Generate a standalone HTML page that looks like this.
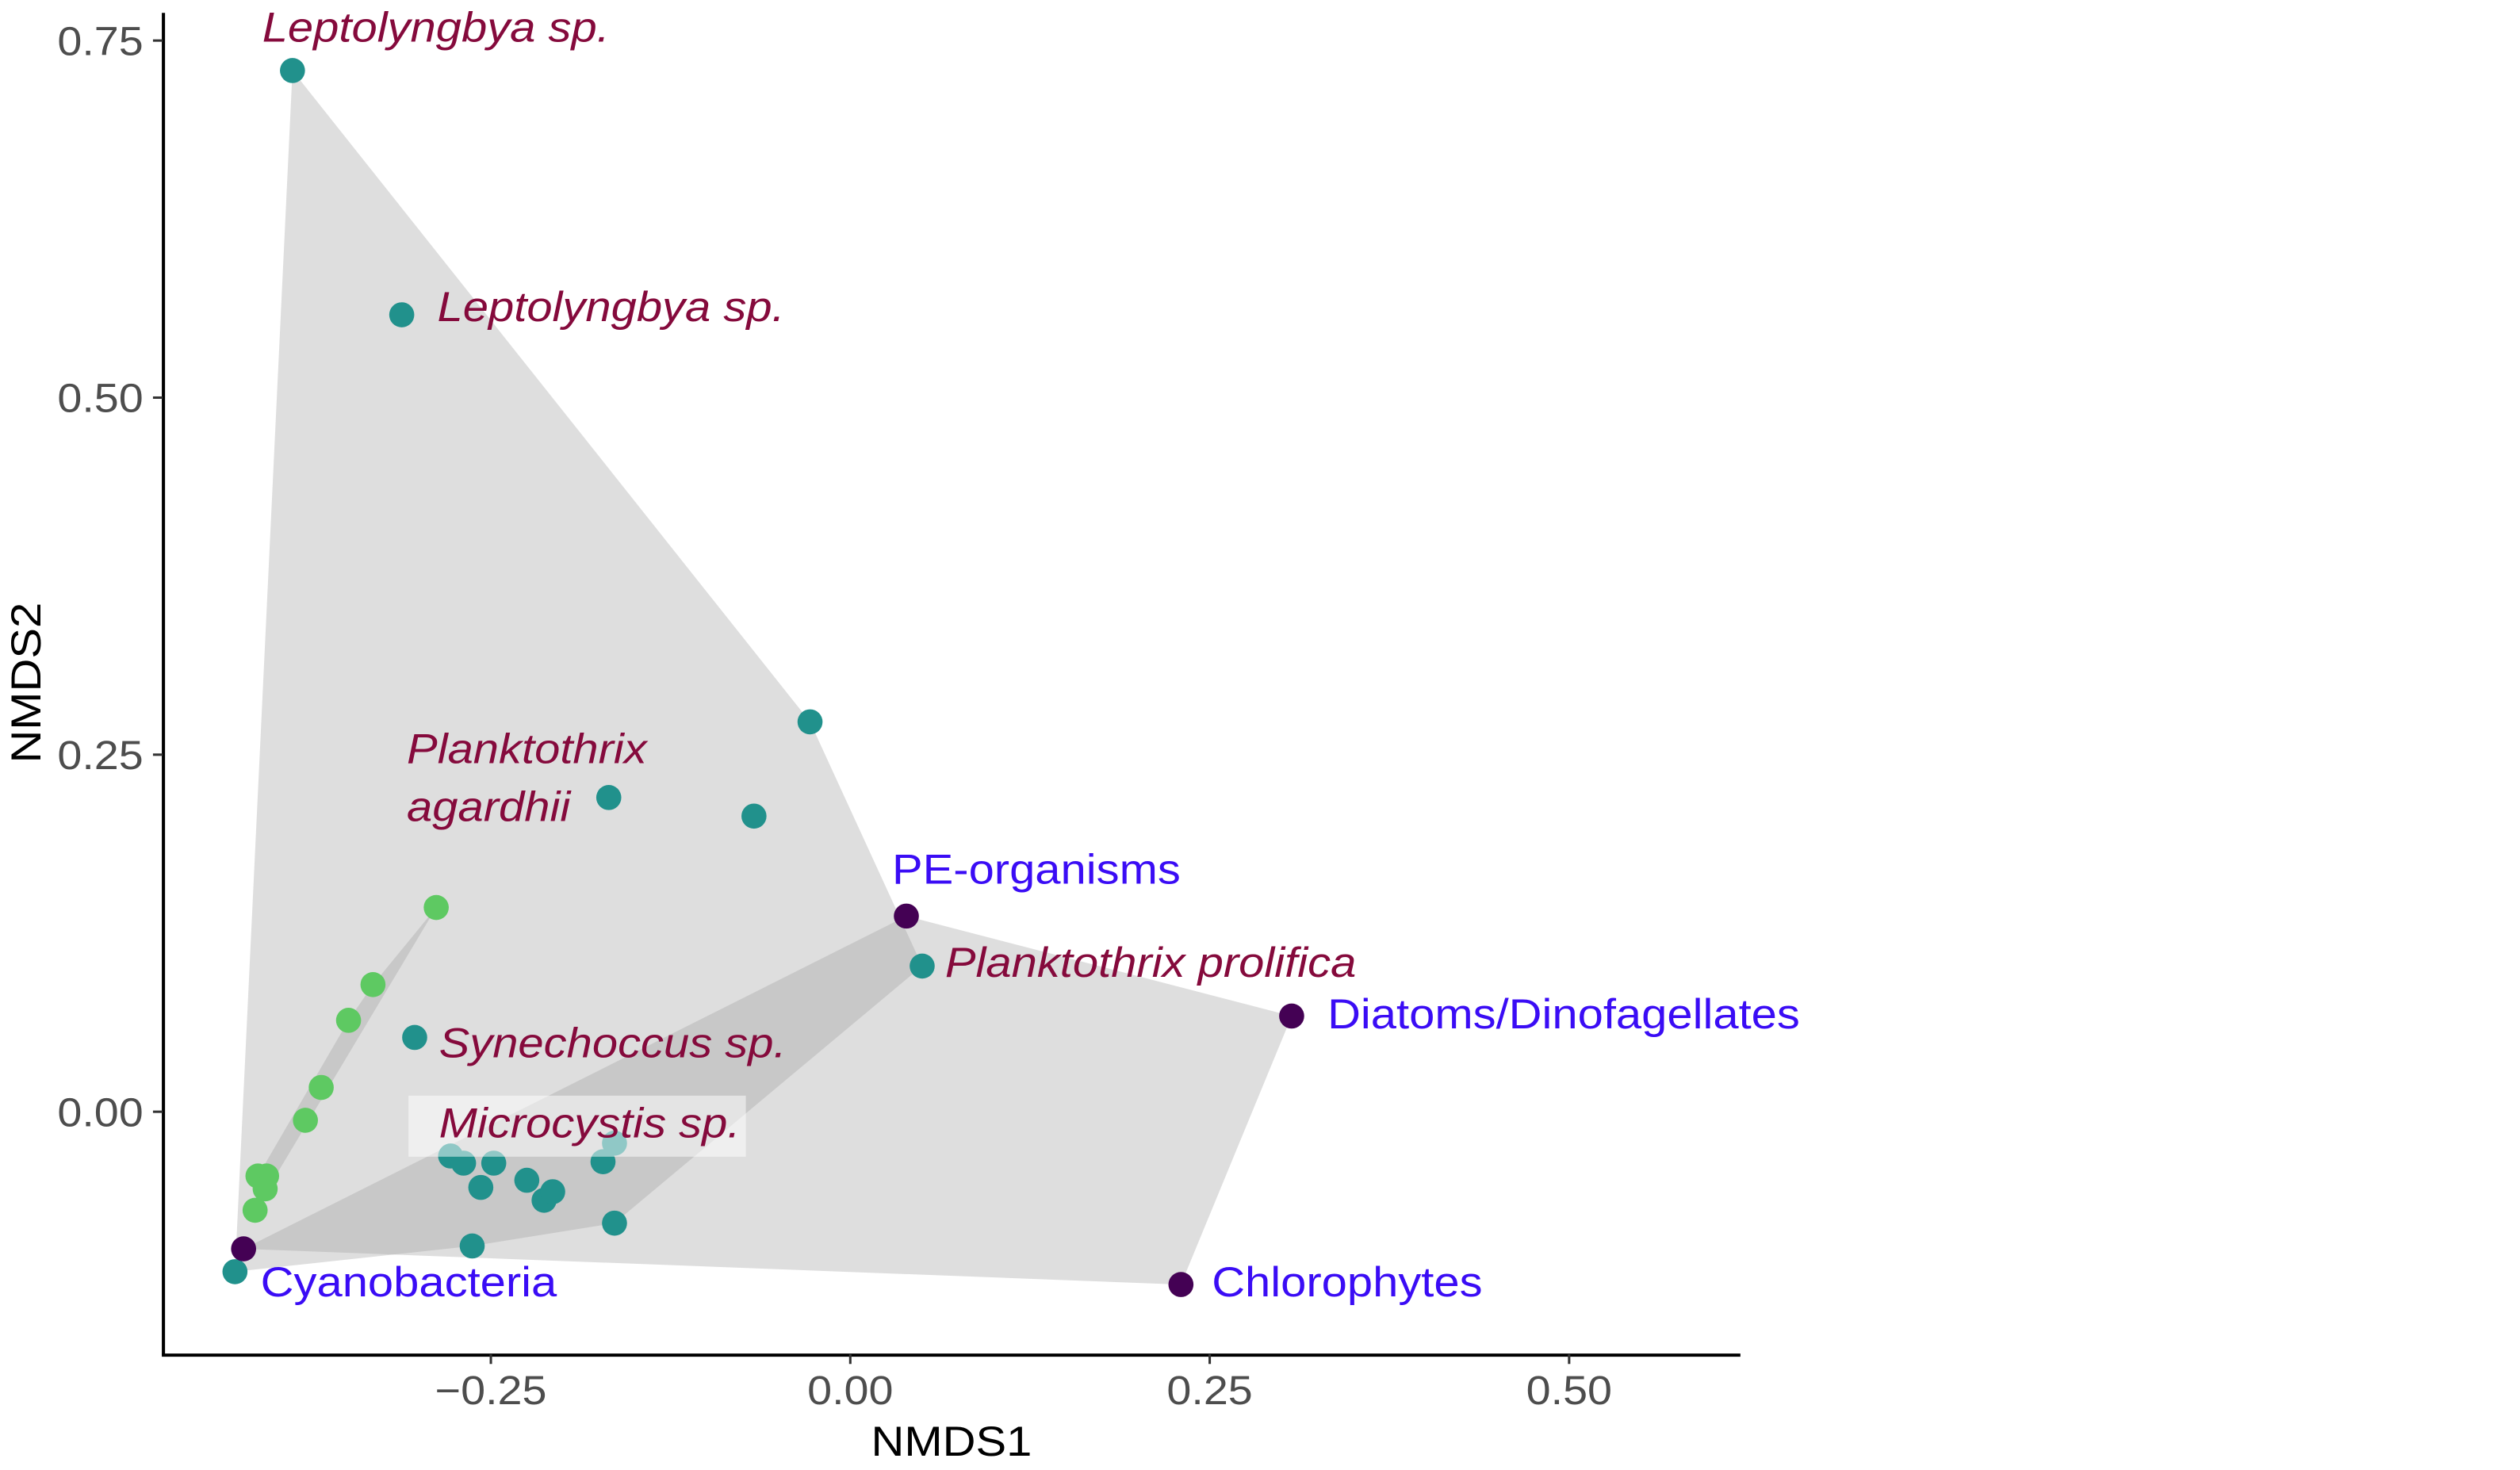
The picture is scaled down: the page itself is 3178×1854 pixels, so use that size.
<!DOCTYPE html>
<html><head><meta charset="utf-8"><style>
html,body{margin:0;padding:0;background:#fff;}
svg{display:block;}
text{font-family:"Liberation Sans",Arial,sans-serif;}
</style></head><body>
<svg id="chart" width="3178" height="1854" viewBox="0 0 1568 915" xmlns="http://www.w3.org/2000/svg">
<g id="hulls"></g>
<g id="points"></g>
<rect x="254" y="682" width="210" height="38" fill="#ffffff" fill-opacity="0.5"/>
<g id="labels"></g>
<g id="axes"></g>
</svg>
<script>
const tealX=[-0.388,-0.312,-0.028,-0.067,-0.168,0.050,-0.428,-0.303,-0.278,-0.269,-0.248,-0.257,-0.225,-0.213,-0.207,-0.172,-0.164,-0.164,-0.263];
const tealY=[0.729,0.558,0.273,0.207,0.220,0.102,-0.112,0.052,-0.031,-0.036,-0.036,-0.053,-0.048,-0.062,-0.056,-0.035,-0.022,-0.078,-0.094];
const purpleX=[0.039,0.307,0.230,-0.422];
const purpleY=[0.137,0.067,-0.121,-0.096];
const greenX=[-0.288,-0.332,-0.349,-0.368,-0.379,-0.412,-0.406,-0.407,-0.414];
const greenY=[0.143,0.089,0.064,0.017,-0.006,-0.045,-0.045,-0.054,-0.069];
const xTicks=[-0.25,0,0.25,0.5];
const xTickLabels=["\u22120.25","0.00","0.25","0.50"];
const yTicks=[0,0.25,0.5,0.75];
const yTickLabels=["0.00","0.25","0.50","0.75"];
const labelTexts=["Leptolyngbya sp.","Leptolyngbya sp.","Planktothrix","agardhii","Planktothrix prolifica","Synechoccus sp.","Microcystis sp.","PE-organisms","Diatoms/Dinofagellates","Cyanobacteria","Chlorophytes"];

const NS="http://www.w3.org/2000/svg";
const sx=v=>529+v*894.8;
const sy=v=>692-v*889;
function mk(tag,attrs,parent){const e=document.createElementNS(NS,tag);for(const k in attrs)e.setAttribute(k,attrs[k]);parent.appendChild(e);return e;}
function widen(t,f){const w=t.getComputedTextLength();if(w>0){t.setAttribute('textLength',w*f);t.setAttribute('lengthAdjust','spacingAndGlyphs');}}
function hull(xs,ys){
  let p=xs.map((x,i)=>[sx(x),sy(ys[i])]).sort((a,b)=>a[0]-b[0]||a[1]-b[1]);
  const cr=(o,a,b)=>(a[0]-o[0])*(b[1]-o[1])-(a[1]-o[1])*(b[0]-o[0]);
  const lo=[],up=[];
  for(const q of p){while(lo.length>1&&cr(lo[lo.length-2],lo[lo.length-1],q)<=0)lo.pop();lo.push(q);}
  for(const q of p.slice().reverse()){while(up.length>1&&cr(up[up.length-2],up[up.length-1],q)<=0)up.pop();up.push(q);}
  return lo.slice(0,-1).concat(up.slice(0,-1)).map(q=>q.join(',')).join(' ');
}
const H=document.getElementById('hulls');
[[tealX,tealY,'hull-cyanobacteria-samples'],[purpleX,purpleY,'hull-references'],[greenX,greenY,'hull-green-samples']].forEach(g=>{
  const e=mk('polygon',{points:hull(g[0],g[1]),fill:'#a0a0a0','fill-opacity':0.35},H);
  
  
});
const P=document.getElementById('points');
function dots(xs,ys,col,name){xs.forEach((x,i)=>{const e=mk('circle',{cx:sx(x),cy:sy(ys[i]),r:7.8,fill:col},P);
  
  });}
dots(greenX,greenY,'#5ec962','point-green');
dots(tealX,tealY,'#21918c','point-teal');
dots(purpleX,purpleY,'#440154','point-purple');

const L=document.getElementById('labels');
const lp=[[163,26,0],[272,200,0],[253,475,0],[253,511,0],[588,608,0],[273,658,0],[273,708,0],[555,550,1],[826,640,1],[162,807,1],[754,807,1]];
labelTexts.forEach((t,i)=>{const a=lp[i];const e=mk('text',{x:a[0],y:a[1],'font-size':26,fill:a[2]?'#3a0cf5':'#850a3c','font-style':a[2]?'normal':'italic'},L);e.textContent=t;
  
  
  widen(e,1.1);});

const A=document.getElementById('axes');
let e=mk('line',{x1:101.5,y1:8,x2:101.5,y2:843.5,stroke:'#000','stroke-width':2},A);

e=mk('line',{x1:100.5,y1:843.5,x2:1083,y2:843.5,stroke:'#000','stroke-width':2},A);

xTicks.forEach((v,i)=>{mk('line',{x1:sx(v),y1:843,x2:sx(v),y2:849,stroke:'#333','stroke-width':1.5},A);
  const t=mk('text',{x:sx(v),y:874,'font-size':25,fill:'#4d4d4d','text-anchor':'middle'},A);t.textContent=xTickLabels[i];
  
  widen(t,1.1);});
yTicks.forEach((v,i)=>{mk('line',{x1:95,y1:sy(v),x2:101,y2:sy(v),stroke:'#333','stroke-width':1.5},A);
  const t=mk('text',{x:89,y:sy(v)+9,'font-size':25,fill:'#4d4d4d','text-anchor':'end'},A);t.textContent=yTickLabels[i];
  
  widen(t,1.1);});
e=mk('text',{x:592,y:906,'font-size':26,fill:'#000','text-anchor':'middle'},A);e.textContent='NMDS1';

widen(e,1.1);
e=mk('text',{x:0,y:0,'font-size':26,fill:'#000','text-anchor':'middle',transform:'translate(25,425) rotate(-90)'},A);e.textContent='NMDS2';

widen(e,1.1);
</script>
</body></html>
